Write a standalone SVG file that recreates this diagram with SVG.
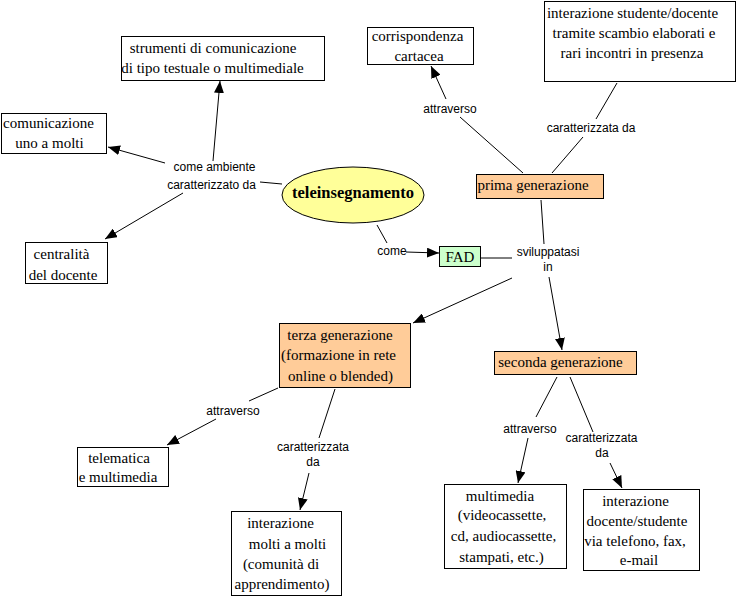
<svg xmlns="http://www.w3.org/2000/svg" width="737" height="598" viewBox="0 0 737 598">
<defs>
<style>
.box{fill:#ffffff;stroke:#000000;stroke-width:1}
.gen{fill:#ffcc99;stroke:#000000;stroke-width:1}
.fad{fill:#ccffcc;stroke:#000000;stroke-width:1}
.t{font-family:"Liberation Serif","Times New Roman",serif;font-size:15px;fill:#000000;text-anchor:middle}
.tb{font-family:"Liberation Serif","Times New Roman",serif;font-size:16.5px;font-weight:bold;fill:#000000;text-anchor:middle}
.l{font-family:"Liberation Sans",Arial,sans-serif;font-size:12px;fill:#000000;text-anchor:middle}
.c line{stroke:#000000;stroke-width:1}
.c line.a{marker-end:url(#arr)}
</style>
<marker id="arr" viewBox="0 0 12 10" refX="12" refY="5" markerWidth="12" markerHeight="10" markerUnits="userSpaceOnUse" orient="auto">
<path d="M0,0 L12,5 L0,10 z" fill="#000000"/>
</marker>
</defs>
<rect x="0" y="0" width="737" height="598" fill="#ffffff"/>

<g id="connectors" class="c">
<line x1="282" y1="184" x2="260" y2="182"/>
<line class="a" x1="213" y1="161" x2="220" y2="81"/>
<line class="a" x1="165" y1="163" x2="108" y2="147"/>
<line class="a" x1="183" y1="193" x2="105" y2="239"/>
<line x1="377" y1="225" x2="387" y2="243"/>
<line class="a" x1="406" y1="252" x2="439" y2="253"/>
<line x1="481" y1="258" x2="512" y2="258"/>
<line x1="541" y1="200" x2="544" y2="244"/>
<line class="a" x1="512" y1="278" x2="413" y2="323"/>
<line class="a" x1="549" y1="277" x2="562" y2="350"/>
<line x1="523" y1="173" x2="460" y2="117"/>
<line class="a" x1="446" y1="99" x2="431" y2="66"/>
<line x1="552" y1="173" x2="583" y2="137"/>
<line x1="596" y1="119" x2="617" y2="83"/>
<line x1="278" y1="388" x2="249" y2="401"/>
<line class="a" x1="216" y1="419" x2="167" y2="445"/>
<line x1="335" y1="389" x2="319" y2="438"/>
<line class="a" x1="309" y1="473" x2="300" y2="510"/>
<line x1="557" y1="377" x2="536" y2="417"/>
<line class="a" x1="528" y1="438" x2="518" y2="483"/>
<line x1="570" y1="377" x2="593" y2="432"/>
<line class="a" x1="610" y1="463" x2="622" y2="488"/>
</g>

<g id="labels">
<text class="l" x="214.5" y="171">come ambiente</text>
<text class="l" x="211.5" y="189">caratterizzato da</text>
<text class="l" x="450" y="113">attraverso</text>
<text class="l" x="591" y="132">caratterizzata da</text>
<text class="l" x="392" y="255">come</text>
<text class="l" x="548" y="256">sviluppatasi</text>
<text class="l" x="548" y="271">in</text>
<text class="l" x="233" y="415">attraverso</text>
<text class="l" x="313" y="451">caratterizzata</text>
<text class="l" x="313" y="466">da</text>
<text class="l" x="530" y="433">attraverso</text>
<text class="l" x="601.5" y="442">caratterizzata</text>
<text class="l" x="602" y="457">da</text>
</g>

<g id="teleinsegnamento">
<ellipse cx="353" cy="195" rx="71" ry="28" fill="#ffff99" stroke="#000000" stroke-width="1"/>
<text class="tb" x="353" y="198">teleinsegnamento</text>
</g>

<g id="strumenti">
<rect class="box" x="121.5" y="36.5" width="203" height="44"/>
<text class="t" x="213" y="53">strumenti di comunicazione</text>
<text class="t" x="212.5" y="73">di tipo testuale o multimediale</text>
</g>

<g id="comunicazione">
<rect class="box" x="1.5" y="113.5" width="105" height="40"/>
<text class="t" x="48.5" y="128">comunicazione</text>
<text class="t" x="49.5" y="148">uno a molti</text>
</g>

<g id="centralita">
<rect class="box" x="25.5" y="242.5" width="82" height="41"/>
<text class="t" x="61.5" y="259">centralità</text>
<text class="t" x="63" y="280">del docente</text>
</g>

<g id="corrispondenza">
<rect class="box" x="367.5" y="27.5" width="106" height="37"/>
<text class="t" x="417.5" y="41">corrispondenza</text>
<text class="t" x="419" y="61">cartacea</text>
</g>

<g id="interazione-studente">
<rect class="box" x="544.5" y="1.5" width="191" height="80"/>
<text class="t" x="632.5" y="18">interazione studente/docente</text>
<text class="t" x="634" y="38">tramite scambio elaborati e</text>
<text class="t" x="632" y="58">rari incontri in presenza</text>
</g>

<g id="prima">
<rect class="gen" x="476.5" y="174.5" width="127" height="24"/>
<text class="t" x="533" y="190">prima generazione</text>
</g>

<g id="fad">
<rect class="fad" x="439.5" y="246.5" width="41" height="20"/>
<text class="t" x="460" y="262">FAD</text>
</g>

<g id="terza">
<rect class="gen" x="279.5" y="323.5" width="131" height="64"/>
<text class="t" x="340" y="340">terza generazione</text>
<text class="t" x="338.5" y="360">(formazione in rete</text>
<text class="t" x="340.5" y="381">online o blended)</text>
</g>

<g id="telematica">
<rect class="box" x="77.5" y="447.5" width="91" height="39"/>
<text class="t" x="119" y="463">telematica</text>
<text class="t" x="118" y="482">e multimedia</text>
</g>

<g id="interazione-molti">
<rect class="box" x="231.5" y="511.5" width="110" height="84"/>
<text class="t" x="280.5" y="528">interazione</text>
<text class="t" x="287.5" y="549">molti a molti</text>
<text class="t" x="281" y="569">(comunità di</text>
<text class="t" x="282" y="589">apprendimento)</text>
</g>

<g id="seconda">
<rect class="gen" x="494.5" y="351.5" width="142" height="23"/>
<text class="t" x="560.5" y="367">seconda generazione</text>
</g>

<g id="multimedia">
<rect class="box" x="444.5" y="484.5" width="122" height="84"/>
<text class="t" x="500" y="501">multimedia</text>
<text class="t" x="502" y="520">(videocassette,</text>
<text class="t" x="503.5" y="541">cd, audiocassette,</text>
<text class="t" x="501.5" y="562">stampati, etc.)</text>
</g>

<g id="interazione-docente">
<rect class="box" x="583.5" y="489.5" width="116" height="81"/>
<text class="t" x="635.5" y="506">interazione</text>
<text class="t" x="637" y="526">docente/studente</text>
<text class="t" x="635" y="546">via telefono, fax,</text>
<text class="t" x="639" y="565">e-mail</text>
</g>
</svg>
